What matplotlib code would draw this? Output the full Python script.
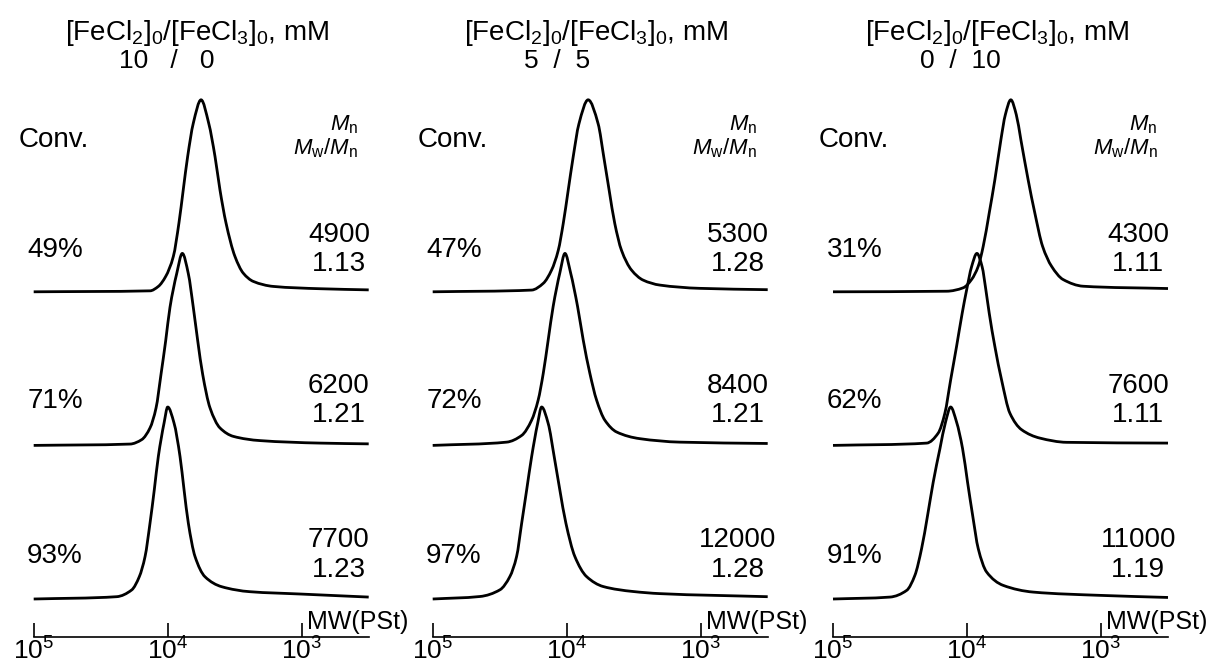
import numpy as np
import matplotlib
matplotlib.use("Agg")
import matplotlib.pyplot as plt
from matplotlib.ticker import NullLocator
from matplotlib.path import Path
from matplotlib.patches import PathPatch

plt.rcParams['font.family'] = ['Liberation Sans', 'DejaVu Sans']
plt.rcParams['mathtext.fontset'] = 'custom'
plt.rcParams['mathtext.rm'] = 'Liberation Sans'
plt.rcParams['mathtext.it'] = 'Liberation Sans:italic'
plt.rcParams['mathtext.bf'] = 'Liberation Sans:bold'

# ---- data -----------------------------------------------------------------
feed_ratios = ["10   /   0", "5  /  5", "0  /  10"]

# conversions, top trace to bottom trace
conversions = [["49%", "71%", "93%"],
               ["47%", "72%", "97%"],
               ["31%", "62%", "91%"]]
mn_values = [[4900, 6200, 7700],
             [5300, 8400, 12000],
             [4300, 7600, 11000]]
dispersity = [["1.13", "1.21", "1.23"],
              ["1.28", "1.21", "1.28"],
              ["1.11", "1.11", "1.19"]]

# SEC traces: log10(MW, PSt calibration) and normalised RI signal
p1_top_logmw = [5.000, 4.132, 4.070, 4.015, 3.958, 3.916, 3.884, 3.851, 3.809, 3.751,
                3.694, 3.647, 3.610, 3.565, 3.498, 3.436, 3.361, 3.212, 2.863, 2.500]
p1_top_signal = [0.000, 0.005, 0.028, 0.080, 0.184, 0.359, 0.531, 0.705, 0.878, 1.000,
                 0.878, 0.705, 0.531, 0.359, 0.184, 0.097, 0.054, 0.028, 0.016, 0.010]
p1_mid_logmw = [5.000, 4.281, 4.194, 4.132, 4.087, 4.050, 4.015, 3.983, 3.933, 3.891,
                3.846, 3.809, 3.776, 3.739, 3.684, 3.610, 3.510, 3.311, 2.863, 2.500]
p1_mid_signal = [0.000, 0.007, 0.030, 0.091, 0.195, 0.370, 0.545, 0.719, 0.894, 1.000,
                 0.894, 0.719, 0.545, 0.370, 0.195, 0.091, 0.047, 0.025, 0.012, 0.008]
p1_bot_logmw = [5.000, 4.381, 4.269, 4.212, 4.169, 4.132, 4.100, 4.070, 4.027, 4.000,
                3.953, 3.908, 3.878, 3.846, 3.796, 3.722, 3.597, 3.386, 3.013, 2.500]
p1_bot_signal = [0.000, 0.012, 0.047, 0.116, 0.221, 0.395, 0.569, 0.742, 0.917, 1.000,
                 0.917, 0.742, 0.569, 0.395, 0.221, 0.116, 0.064, 0.038, 0.026, 0.010]

p2_top_logmw = [5.000, 4.262, 4.175, 4.113, 4.063, 4.026, 3.989, 3.952, 3.909, 3.840,
                3.765, 3.723, 3.683, 3.641, 3.591, 3.516, 3.430, 3.305, 3.007, 2.500]
p2_top_signal = [0.000, 0.009, 0.044, 0.113, 0.216, 0.355, 0.528, 0.701, 0.874, 1.000,
                 0.874, 0.701, 0.528, 0.355, 0.216, 0.113, 0.061, 0.035, 0.018, 0.011]
p2_mid_logmw = [5.000, 4.448, 4.336, 4.262, 4.213, 4.175, 4.138, 4.101, 4.051, 4.013,
                3.971, 3.919, 3.877, 3.827, 3.777, 3.715, 3.628, 3.454, 3.156, 2.500]
p2_mid_signal = [0.000, 0.017, 0.052, 0.131, 0.236, 0.375, 0.550, 0.724, 0.899, 1.000,
                 0.899, 0.724, 0.550, 0.375, 0.236, 0.131, 0.070, 0.035, 0.017, 0.010]
p2_bot_logmw = [5.000, 4.647, 4.498, 4.424, 4.374, 4.336, 4.299, 4.262, 4.217, 4.187,
                4.138, 4.093, 4.051, 4.006, 3.939, 3.852, 3.728, 3.504, 3.305, 2.500]
p2_bot_signal = [0.000, 0.013, 0.048, 0.117, 0.221, 0.395, 0.567, 0.740, 0.914, 1.000,
                 0.914, 0.740, 0.567, 0.395, 0.221, 0.117, 0.065, 0.039, 0.028, 0.012]

p3_top_logmw = [5.000, 4.152, 4.028, 3.966, 3.916, 3.879, 3.834, 3.792, 3.747, 3.714, 3.673,
                3.632, 3.598, 3.544, 3.494, 3.436, 3.369, 3.283, 3.133, 2.500]
p3_top_signal = [0.000, 0.003, 0.021, 0.064, 0.133, 0.237, 0.411, 0.584, 0.792, 0.922, 1.000,
                 0.922, 0.792, 0.584, 0.411, 0.237, 0.133, 0.064, 0.029, 0.017]
p3_mid_logmw = [5.000, 4.301, 4.215, 4.165, 4.122, 4.078, 4.036, 4.003, 3.966, 3.926,
                3.887, 3.859, 3.834, 3.792, 3.742, 3.680, 3.593, 3.456, 3.257, 2.500]
p3_mid_signal = [0.000, 0.012, 0.064, 0.168, 0.341, 0.515, 0.688, 0.809, 0.930, 1.000,
                 0.930, 0.809, 0.688, 0.515, 0.341, 0.168, 0.082, 0.038, 0.016, 0.012]
p3_bot_logmw = [5.000, 4.575, 4.450, 4.389, 4.339, 4.294, 4.252, 4.202, 4.160, 4.122,
                4.078, 4.033, 3.996, 3.958, 3.916, 3.854, 3.730, 3.506, 3.009, 2.500]
p3_bot_signal = [0.000, 0.010, 0.045, 0.123, 0.262, 0.436, 0.609, 0.783, 0.922, 1.000,
                 0.922, 0.783, 0.609, 0.436, 0.262, 0.141, 0.071, 0.036, 0.019, 0.008]

traces = [
    [(p1_top_logmw, p1_top_signal), (p1_mid_logmw, p1_mid_signal), (p1_bot_logmw, p1_bot_signal)],
    [(p2_top_logmw, p2_top_signal), (p2_mid_logmw, p2_mid_signal), (p2_bot_logmw, p2_bot_signal)],
    [(p3_top_logmw, p3_top_signal), (p3_mid_logmw, p3_mid_signal), (p3_bot_logmw, p3_bot_signal)],
]
trace_offsets = [1.6, 0.8, 0.0]

tick_mw = [1e5, 1e4, 1e3]
tick_labels = [r"$10^{5}$", r"$10^{4}$", r"$10^{3}$"]


def smooth_trace_path(logmw, signal, offset):
    """Path through the measured points, joined by shape-preserving cubic Bezier segments."""
    x = np.asarray(logmw, float)[::-1]
    y = np.asarray(signal, float)[::-1] + offset
    h = np.diff(x)
    d = np.diff(y) / h
    m = np.zeros_like(x)
    m[0], m[-1] = d[0], d[-1]
    for k in range(1, len(x) - 1):
        if d[k - 1] * d[k] > 0:
            w1 = 2 * h[k] + h[k - 1]
            w2 = h[k] + 2 * h[k - 1]
            m[k] = (w1 + w2) / (w1 / d[k - 1] + w2 / d[k])
    verts = [(x[0], y[0])]
    codes = [Path.MOVETO]
    for k in range(len(x) - 1):
        verts += [(x[k] + h[k] / 3, y[k] + m[k] * h[k] / 3),
                  (x[k + 1] - h[k] / 3, y[k + 1] - m[k + 1] * h[k] / 3),
                  (x[k + 1], y[k + 1])]
        codes += [Path.CURVE4] * 3
    verts = np.array(verts)
    verts[:, 0] = 10 ** verts[:, 0]
    return Path(verts, codes)


# ---- layout ---------------------------------------------------------------
W, H = 1213, 666
fig = plt.figure(figsize=(W / 100, H / 100), dpi=100)
fig.patch.set_facecolor("white")


def fx(px):
    return px / W


def fy(py):
    return 1 - py / H


FS = 20
panel_left = [33.7, 432.7, 833.0]
ratio_center = [166.5, 557.0, 960.0]
decade_px = 134.0
log_hi, log_lo = 5.0, 2.5
ax_w = (log_hi - log_lo) * decade_px
spine_px, top_px = 637.0, 80.0
unit_px = 192.0
base_px = 599.0
ylim = ((base_px - spine_px) / unit_px, (base_px - top_px) / unit_px)

for i, left in enumerate(panel_left):
    ax = fig.add_axes([fx(left), fy(spine_px), fx(ax_w), (spine_px - top_px) / H])
    ax.set_xscale("log")
    ax.set_xlim(10 ** log_hi, 10 ** log_lo)
    ax.set_ylim(*ylim)
    ax.patch.set_visible(False)
    for s in ("top", "left", "right"):
        ax.spines[s].set_visible(False)
    ax.spines["bottom"].set_linewidth(1.2)
    ax.set_xticks(tick_mw)
    ax.set_xticklabels(tick_labels)
    ax.xaxis.set_minor_locator(NullLocator())
    ax.tick_params(axis="x", direction="in", length=10, width=1.2, pad=0.5, labelsize=19)
    ax.set_yticks([])

    for (lm, sig), off in zip(traces[i], trace_offsets):
        ax.add_patch(PathPatch(smooth_trace_path(lm, sig, off), fill=False, edgecolor="black",
                               linewidth=2.0, joinstyle="round", capstyle="butt", clip_on=False))

    dx = left - panel_left[0]
    # heading
    fig.text(fx(197.5 + dx), fy(39.5), r"[FeCl$_2$]$_0$/[FeCl$_3$]$_0$, mM",
             ha="center", va="baseline", fontsize=FS)
    fig.text(fx(ratio_center[i]), fy(68), feed_ratios[i], ha="center", va="baseline",
             fontsize=19)
    # column headers
    fig.text(fx(54 + dx), fy(147), "Conv.", ha="center", va="baseline", fontsize=FS)
    fig.text(fx(358 + dx), fy(130), r"$M_\mathrm{n}$", ha="right", va="baseline", fontsize=16)
    fig.text(fx(358 + dx), fy(154), r"$M_\mathrm{w}/M_\mathrm{n}$", ha="right", va="baseline",
             fontsize=16)
    # per-trace annotations
    for j, (yc, y1, y2) in enumerate([(257, 242, 271), (408, 393, 422), (563, 547, 577)]):
        fig.text(fx(55 + dx), fy(yc), conversions[i][j], ha="center", va="baseline", fontsize=FS)
        fig.text(fx(339 + dx), fy(y1), f"{mn_values[i][j]}", ha="center", va="baseline",
                 fontsize=FS)
        fig.text(fx(339 + dx), fy(y2), dispersity[i][j], ha="center", va="baseline", fontsize=FS)
    fig.text(fx(307 + dx), fy(629), "MW(PSt)", ha="left", va="baseline", fontsize=18)

fig.savefig("out.png", dpi=100, facecolor="white")
